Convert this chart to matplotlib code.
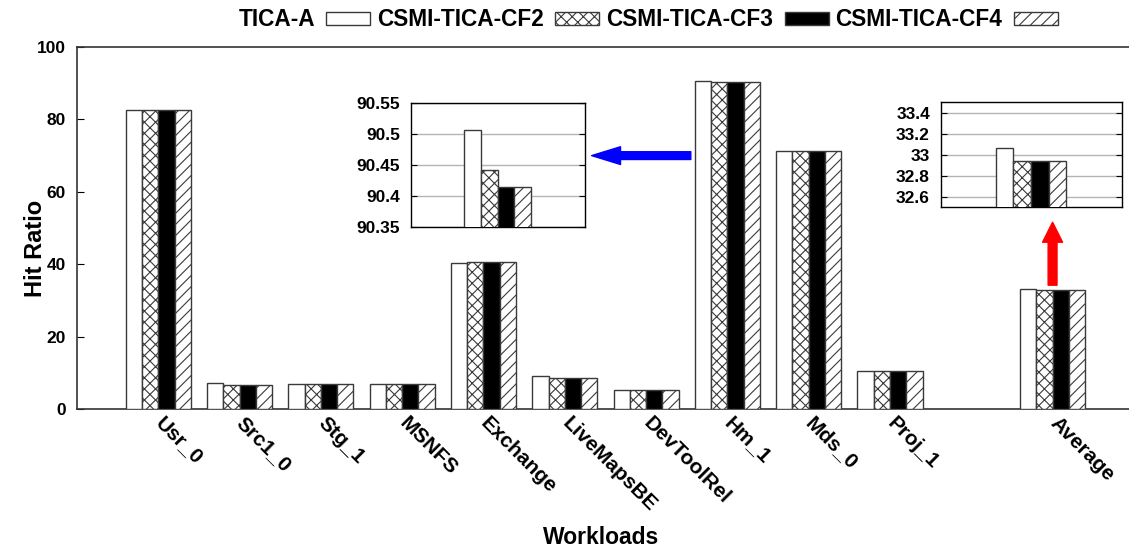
import numpy as np
import matplotlib
matplotlib.use("Agg")
import matplotlib.pyplot as plt
import matplotlib.transforms as mtransforms
from matplotlib.patches import Patch

plt.rcParams['font.family'] = 'Liberation Sans'
plt.rcParams['font.weight'] = 'bold'
plt.rcParams['hatch.linewidth'] = 0.8

# workloads on the x axis (one empty slot before Average)
WORKLOADS = ["Usr_0", "Src1_0", "Stg_1", "MSNFS", "Exchange", "LiveMapsBE",
             "DevToolRel", "Hm_1", "Mds_0", "Proj_1", "", "Average"]

SERIES = ["TICA-A", "CSMI-TICA-CF2", "CSMI-TICA-CF3", "CSMI-TICA-CF4"]

# hit ratio (%) per series
TICA_A = [82.6, 7.25, 6.9, 6.9, 40.35, 9.2, 5.3, 90.507, 71.2, 10.5, None, 33.06]
CF2 = [82.6, 6.5, 6.9, 6.9, 40.6, 8.65, 5.3, 90.442, 71.2, 10.5, None, 32.94]
CF3 = [82.6, 6.5, 6.9, 6.9, 40.6, 8.65, 5.3, 90.415, 71.2, 10.5, None, 32.94]
CF4 = [82.6, 6.5, 6.9, 6.9, 40.6, 8.65, 5.3, 90.415, 71.2, 10.5, None, 32.94]

VALUES = [TICA_A, CF2, CF3, CF4]

# bar looks: face, hatch
STYLES = [("white", None), ("white", "xxx"), ("black", None), ("white", "///")]
EDGE = "#3a3a3a"
BAR_W = 0.2


def draw_bars(ax, only=None):
    """Draw the four series; only = index of a single group (for insets)."""
    for s, vals in enumerate(VALUES):
        face, hatch = STYLES[s]
        xs, hs = [], []
        for i, v in enumerate(vals):
            if v is None or (only is not None and i != only):
                continue
            xs.append(i + (s - 1.5) * BAR_W)
            hs.append(v)
        ax.bar(xs, hs, width=BAR_W, color=face, edgecolor=EDGE, hatch=hatch,
               linewidth=1.0, label=SERIES[s], zorder=3)


fig = plt.figure(figsize=(11.29, 5.5), dpi=100)
ax = fig.add_axes([0.0682, 0.2564, 0.9318, 0.6581])

draw_bars(ax)

idx = np.arange(len(WORKLOADS))
ax.set_xlim(-1.0, 11.94)
ax.set_ylim(0, 100)
ax.set_yticks([0, 20, 40, 60, 80, 100])
ax.tick_params(axis='y', direction='in', length=5, labelsize=12.5, pad=8)
ax.set_xticks(idx[[i for i, w in enumerate(WORKLOADS) if w]])
ax.set_xticklabels([w for w in WORKLOADS if w], rotation=-45, ha='left',
                   va='top', rotation_mode='anchor', fontsize=15)
ax.tick_params(axis='x', length=0, pad=3)
# nudge the slanted labels right so they start at the group centre
shift = mtransforms.ScaledTranslation(7 / 100, 0, fig.dpi_scale_trans)
for lab in ax.get_xticklabels():
    lab.set_transform(lab.get_transform() + shift)
ax.spines['right'].set_visible(False)
for sp in ['left', 'top', 'bottom']:
    ax.spines[sp].set_color('#333333')
    ax.spines[sp].set_linewidth(1.2)

fig.text(35 / 1129, 1 - 248 / 550, "Hit Ratio", rotation=90, ha='center',
         va='center', fontsize=17)
fig.text(0.532, 1 - 538 / 550, "Workloads", ha='center', va='center',
         fontsize=16.5)

# legend along the top: label first, sample after
handles = [Patch(facecolor=STYLES[s][0], edgecolor=EDGE, hatch=STYLES[s][1],
                 linewidth=1.0) for s in range(4)]
fig.legend(handles, SERIES, loc='center', bbox_to_anchor=(0.574, 0.964),
           ncol=4, frameon=False, markerfirst=False, fontsize=16.3,
           handlelength=1.95, handleheight=0.5, handletextpad=0.5,
           columnspacing=0.3)


def inset(rect, group, ylim, yticks, ylabels):
    ia = fig.add_axes(rect)
    draw_bars(ia, only=group)
    ia.set_xlim(group - 1.02, group + 1.03)
    ia.set_ylim(*ylim)
    ia.set_yticks(yticks)
    ia.set_yticklabels(ylabels)
    ia.set_xticks([])
    ia.grid(axis='y', color='#b4b4b4', linewidth=1.0, zorder=0)
    ia.tick_params(axis='y', direction='in', length=4, labelsize=12.5,
                   left=True, right=True, pad=8)
    for sp in ia.spines.values():
        sp.set_linewidth(1.0)
    return ia


inset([0.364, 0.5873, 0.1541, 0.2255], 7, (90.35, 90.55),
      [90.35, 90.4, 90.45, 90.5, 90.55],
      ["90.35", "90.4", "90.45", "90.5", "90.55"])
inset([0.8335, 0.6236, 0.1603, 0.1909], 11, (32.5, 33.5),
      [32.6, 32.8, 33.0, 33.2, 33.4],
      ["32.6", "32.8", "33", "33.2", "33.4"])

# arrows pointing at the zoomed groups
ax.annotate('', xy=(5.33, 70.0), xytext=(6.55, 70.0),
            arrowprops=dict(arrowstyle='simple,head_length=1.3,head_width=0.8,tail_width=0.35',
                            color='blue', mutation_scale=16, shrinkA=0, shrinkB=0))
ax.annotate('', xy=(11.0, 51.6), xytext=(11.0, 34.2),
            arrowprops=dict(arrowstyle='simple,head_length=0.9,head_width=0.9,tail_width=0.4',
                            color='red', mutation_scale=16, shrinkA=0, shrinkB=0))

fig.savefig("out.png", dpi=100)
